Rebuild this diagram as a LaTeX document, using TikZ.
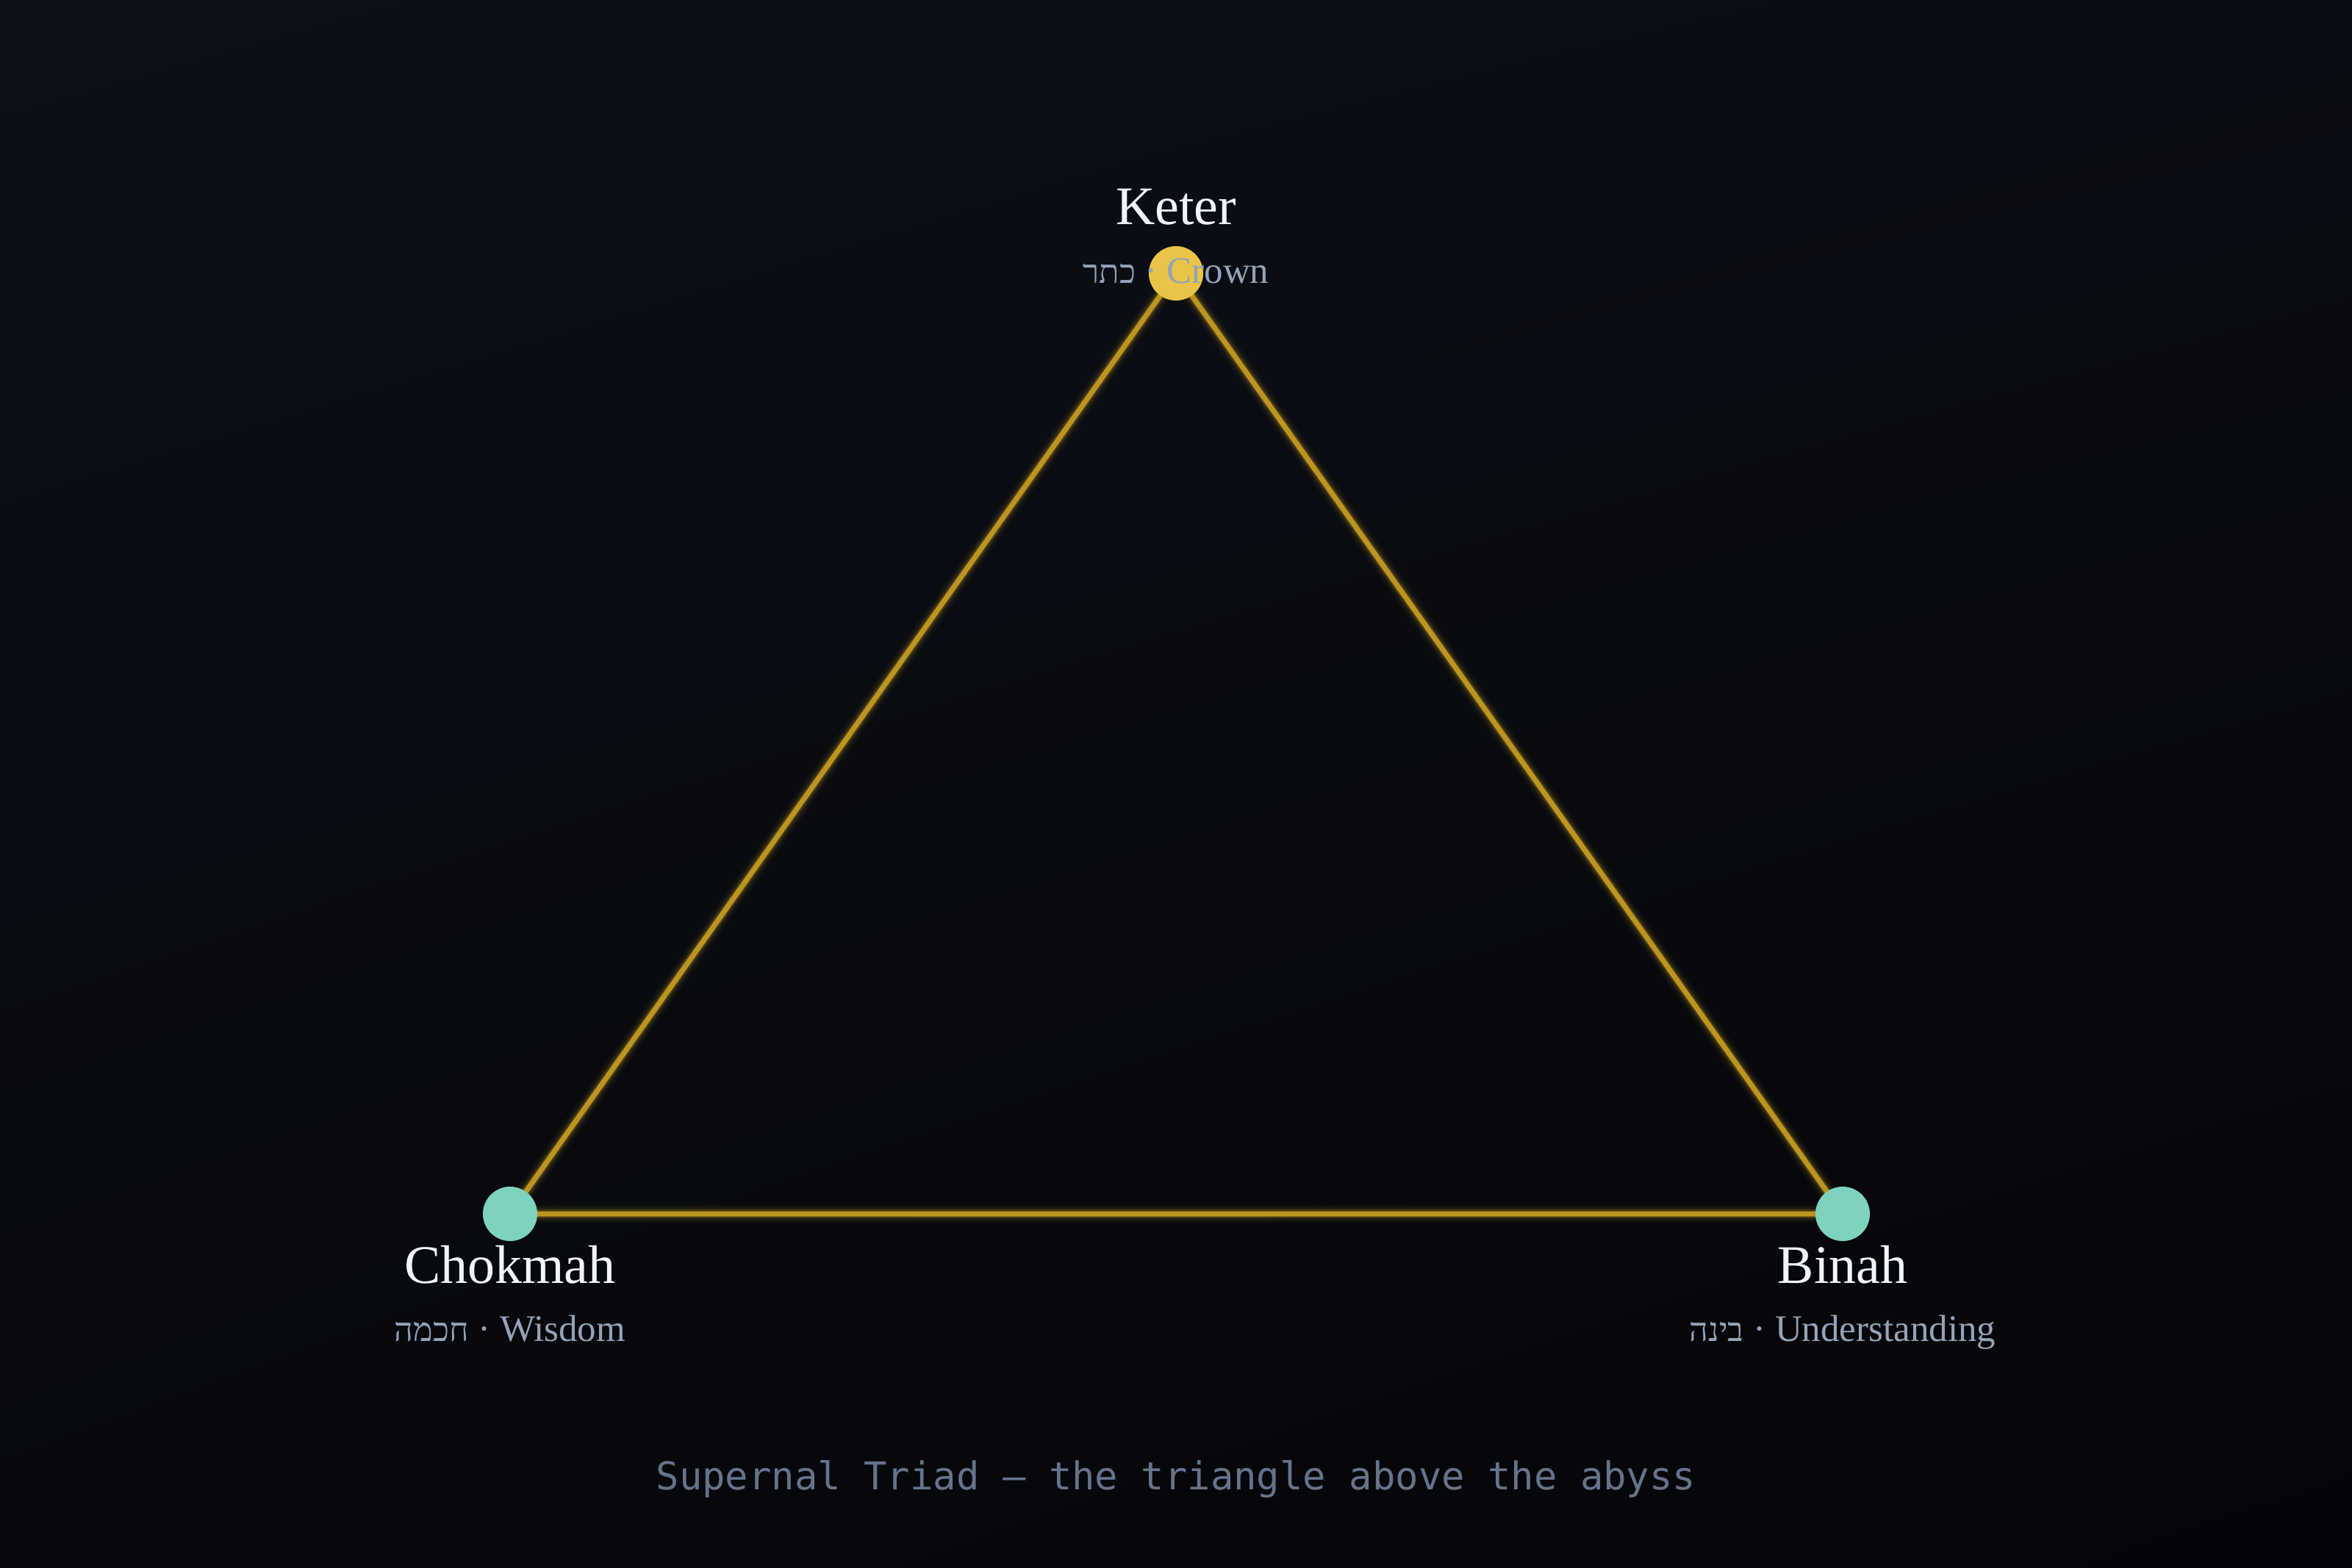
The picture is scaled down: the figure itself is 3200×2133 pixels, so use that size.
\documentclass[tikz,border=0pt]{standalone}
\usepackage{fontspec}
\setmainfont{Liberation Serif}
\setmonofont{DejaVu Sans Mono}
\newfontfamily\hebfont[Script=Hebrew,Scale=0.88]{Liberation Serif}
\TeXXeTstate=1
\usetikzlibrary{positioning,shadings}

\definecolor{bgtl}{HTML}{0C1018}
\definecolor{bgtr}{HTML}{0A0D13}
\definecolor{bgbl}{HTML}{07090D}
\definecolor{bgbr}{HTML}{040508}
\definecolor{gold}{HTML}{BC9520}
\definecolor{keterfill}{HTML}{E8C547}
\definecolor{tealfill}{HTML}{7DD3C0}
\definecolor{titlewhite}{HTML}{F1F5F9}
\definecolor{subgrey}{HTML}{94A3B8}
\definecolor{capgrey}{HTML}{64748B}

\pgfdeclarelayer{bg}
\pgfdeclarelayer{glow}
\pgfsetlayers{bg,glow,main}

\begin{document}
\begin{tikzpicture}[x=0.01cm,y=-0.01cm]
  \tikzstyle{sephira}=[circle,draw=none,minimum size=0.74cm,inner sep=0pt]
  \tikzstyle{title}=[text=titlewhite,font=\fontsize{21}{25}\selectfont,inner sep=0pt,anchor=base]
  \tikzstyle{sublabel}=[text=subgrey,font=\fontsize{14.5}{17}\selectfont,inner sep=0pt,anchor=base]
  \tikzstyle{caption}=[text=capgrey,font=\ttfamily\fontsize{14.85}{18}\selectfont,inner sep=0pt,anchor=base]

  \begin{pgfonlayer}{bg}
    \shade[upper left=bgtl,upper right=bgtr,lower left=bgbl,lower right=bgbr]
      (0,0) rectangle (3200,2133);
  \end{pgfonlayer}
  \useasboundingbox (0,0) rectangle (3200,2133);

  \node[sephira,fill=keterfill] (K) at (1600,372)  {};
  \node[sephira,fill=tealfill]  (C) at (694,1652)  {};
  \node[sephira,fill=tealfill]  (B) at (2507,1652) {};

  % the three channels, with a soft glow
  \begin{pgfonlayer}{glow}
    \foreach \w/\o in {7pt/0.05,5pt/0.1,3.4pt/0.22}
      \draw[gold,line width=\w,opacity=\o,line join=round]
        (K.center) -- (C.center) -- (B.center) -- cycle;
    \draw[gold,line width=2pt,line join=round]
      (K.center) -- (C.center) -- (B.center) -- cycle;
  \end{pgfonlayer}

  \node[title]    (Kname) at (1600,305)  {Keter};
  \node[sublabel] (Ksub)  at (1600,385)  {{\hebfont\beginR כתר\endR} · Crown};
  \node[title]    (Cname) at (694,1746)  {Chokmah};
  \node[sublabel] (Csub)  at (694,1825)  {{\hebfont\beginR חכמה\endR} · Wisdom};
  \node[title]    (Bname) at (2507,1746) {Binah};
  \node[sublabel] (Bsub)  at (2507,1825) {{\hebfont\beginR בינה\endR} · Understanding};

  \node[caption] (cap) at (1600,2027) {Supernal Triad — the triangle above the abyss};
\end{tikzpicture}
\end{document}
